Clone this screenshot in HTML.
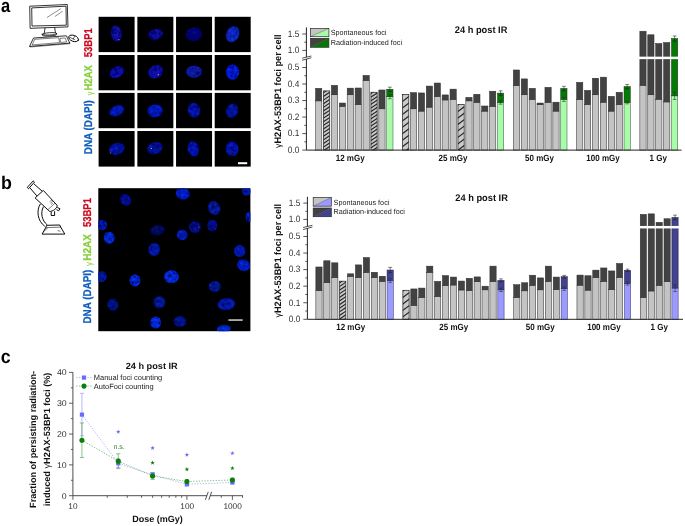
<!DOCTYPE html>
<html lang="en"><head><meta charset="utf-8"><title>Figure: persisting radiation-induced foci 24 h post IR</title>
<style>
html,body{margin:0;padding:0;background:#fff;}
body{width:685px;height:526px;overflow:hidden;}
svg{display:block;}
text{font-family:"Liberation Sans", Arial, sans-serif;fill:#1c1c1c;text-rendering:geometricPrecision;}
.tk{font-size:9.2px;fill:#303030;}
.yl{font-size:9.45px;font-weight:bold;fill:#111;}
.gm{font-weight:normal;font-size:9px;}
.tt2{font-size:9.6px;font-weight:bold;fill:#111;}
.tt{font-size:9px;font-weight:bold;fill:#111;}
.xl{font-size:9px;font-weight:bold;fill:#111;}
.lg{font-size:7.4px;fill:#222;}
.pl{font-size:19.5px;font-weight:bold;fill:#000;}
.vl{font-size:11.3px;font-weight:bold;stroke-width:0.25px;}
.vg{font-size:9.6px;}
.ctk{font-size:8.4px;fill:#303030;}
.clg{font-size:7.5px;fill:#222;}
.ns{font-size:7px;fill:#2e8b2e;}
</style></head><body>
<svg width="685" height="526" viewBox="0 0 685 526">
<defs>
<filter id="b1" x="-30%" y="-30%" width="160%" height="160%"><feGaussianBlur in="SourceGraphic" stdDeviation="0.55" result="b"/><feTurbulence type="fractalNoise" baseFrequency="0.32" numOctaves="2" seed="7" result="n"/><feColorMatrix in="n" type="matrix" values="0 0 0 0 0  0 0 0 0 0  0 0 0 0 0.05  1.9 0 0 0 -0.62" result="na"/><feComposite in="na" in2="b" operator="in" result="dk"/><feMerge><feMergeNode in="b"/><feMergeNode in="dk"/></feMerge></filter>
<filter id="b0" x="-80%" y="-80%" width="260%" height="260%"><feGaussianBlur stdDeviation="0.45"/></filter>
<clipPath id="clipb"><rect x="98.3" y="188.2" width="152.1" height="143"/></clipPath>
</defs>
<rect width="685" height="526" fill="#fff"/>
<text transform="translate(0.9 11.5) scale(0.87 1)" class="pl" style="font-size:19.0px">a</text>
<text transform="translate(0.9 188.5) scale(0.97 1)" class="pl" style="font-size:18.4px">b</text>
<text transform="translate(0.8 362.8) scale(0.93 1)" class="pl" style="font-size:19.0px">c</text>
<text transform="translate(92 154.2) rotate(-90) scale(0.873 1)" class="vl" style="fill:#0f5cbd;stroke:#0f5cbd">DNA (DAPI)</text>
<text transform="translate(92.6 95.6) rotate(-90) scale(0.84 1)" class="vg" style="fill:#86cf3a">γ</text>
<text transform="translate(92 90.5) rotate(-90) scale(0.84 1)" class="vl" style="fill:#86cf3a;stroke:#86cf3a">H2AX</text>
<text transform="translate(92 57.2) rotate(-90) scale(0.84 1)" class="vl" style="fill:#c8081c;stroke:#c8081c">53BP1</text>
<text transform="translate(91.1 323.5) rotate(-90) scale(0.873 1)" class="vl" style="fill:#0f5cbd;stroke:#0f5cbd">DNA (DAPI)</text>
<text transform="translate(91.7 265.9) rotate(-90) scale(0.84 1)" class="vg" style="fill:#86cf3a">γ</text>
<text transform="translate(91.1 260.8) rotate(-90) scale(0.89 1)" class="vl" style="fill:#86cf3a;stroke:#86cf3a">H2AX</text>
<text transform="translate(91.1 227.1) rotate(-90) scale(0.84 1)" class="vl" style="fill:#c8081c;stroke:#c8081c">53BP1</text>
<rect x="98.6" y="16.8" width="36" height="35.3" fill="#000"/>
<rect x="137.35" y="16.8" width="36" height="35.3" fill="#000"/>
<rect x="176.05" y="16.8" width="36" height="35.3" fill="#000"/>
<rect x="214.7" y="16.8" width="36" height="35.3" fill="#000"/>
<rect x="98.6" y="55" width="36" height="35.3" fill="#000"/>
<rect x="137.35" y="55" width="36" height="35.3" fill="#000"/>
<rect x="176.05" y="55" width="36" height="35.3" fill="#000"/>
<rect x="214.7" y="55" width="36" height="35.3" fill="#000"/>
<rect x="98.6" y="92.9" width="36" height="35.3" fill="#000"/>
<rect x="137.35" y="92.9" width="36" height="35.3" fill="#000"/>
<rect x="176.05" y="92.9" width="36" height="35.3" fill="#000"/>
<rect x="214.7" y="92.9" width="36" height="35.3" fill="#000"/>
<rect x="98.6" y="131" width="36" height="35.6" fill="#000"/>
<rect x="137.35" y="131" width="36" height="35.6" fill="#000"/>
<rect x="176.05" y="131" width="36" height="35.6" fill="#000"/>
<rect x="214.7" y="131" width="36" height="35.6" fill="#000"/>
<ellipse cx="116.3" cy="33.6" rx="5.4" ry="8" transform="rotate(-10 116.3 33.6)" fill="#1616a8" opacity="1.0" filter="url(#b1)"/>
<ellipse cx="155.5" cy="34.3" rx="7.4" ry="5.4" transform="rotate(-15 155.5 34.3)" fill="#1212a8" opacity="1.0" filter="url(#b1)"/>
<ellipse cx="194" cy="34.3" rx="8" ry="6.8" transform="rotate(-10 194 34.3)" fill="#0e0e88" opacity="1.0" filter="url(#b1)"/>
<ellipse cx="232.6" cy="34.3" rx="6.3" ry="8.2" transform="rotate(25 232.6 34.3)" fill="#1530e0" opacity="1.0" filter="url(#b1)"/>
<ellipse cx="116.8" cy="72.1" rx="7.6" ry="5.3" transform="rotate(-30 116.8 72.1)" fill="#1216c0" opacity="1.0" filter="url(#b1)"/>
<ellipse cx="155.5" cy="71.7" rx="7.8" ry="6.3" transform="rotate(-30 155.5 71.7)" fill="#1216b8" opacity="1.0" filter="url(#b1)"/>
<ellipse cx="194" cy="71.7" rx="8" ry="6.2" transform="rotate(0 194 71.7)" fill="#1324b0" opacity="1.0" filter="url(#b1)"/>
<ellipse cx="232.6" cy="72.1" rx="6.6" ry="7.6" transform="rotate(0 232.6 72.1)" fill="#0e24ea" opacity="1.0" filter="url(#b1)"/>
<ellipse cx="116.8" cy="110.8" rx="7.6" ry="5" transform="rotate(-25 116.8 110.8)" fill="#0e20d0" opacity="1.0" filter="url(#b1)"/>
<ellipse cx="155" cy="110.8" rx="7.6" ry="6.4" transform="rotate(-5 155 110.8)" fill="#0e20d8" opacity="1.0" filter="url(#b1)"/>
<ellipse cx="194" cy="110.3" rx="6" ry="7.2" transform="rotate(-10 194 110.3)" fill="#0e1cc0" opacity="1.0" filter="url(#b1)"/>
<ellipse cx="232.1" cy="110.8" rx="5.8" ry="7.2" transform="rotate(25 232.1 110.8)" fill="#0e1cb0" opacity="1.0" filter="url(#b1)"/>
<ellipse cx="116.8" cy="148.8" rx="8" ry="5.8" transform="rotate(-20 116.8 148.8)" fill="#0e1cb8" opacity="1.0" filter="url(#b1)"/>
<ellipse cx="154.8" cy="148.1" rx="8" ry="5.8" transform="rotate(-20 154.8 148.1)" fill="#0e1cb0" opacity="1.0" filter="url(#b1)"/>
<ellipse cx="193.3" cy="148.8" rx="5.4" ry="7.6" transform="rotate(-15 193.3 148.8)" fill="#0e1cc8" opacity="1.0" filter="url(#b1)"/>
<ellipse cx="232.1" cy="148.8" rx="6.4" ry="7.2" transform="rotate(-10 232.1 148.8)" fill="#0e1cc0" opacity="1.0" filter="url(#b1)"/>
<circle cx="118.8" cy="39.6" r="0.65" fill="#d870a8" filter="url(#b0)"/>
<circle cx="158.3" cy="74.7" r="0.65" fill="#e8a070" filter="url(#b0)"/>
<circle cx="110.3" cy="153" r="0.6" fill="#e86828" filter="url(#b0)"/>
<circle cx="151.4" cy="148.4" r="0.65" fill="#f09030" filter="url(#b0)"/>
<circle cx="230.5" cy="153.4" r="0.5" fill="#c82040" filter="url(#b0)"/>
<rect x="238" y="162.2" width="9.2" height="2" fill="#fff"/>
<rect x="98.3" y="188.2" width="152.1" height="143" fill="#000"/>
<g clip-path="url(#clipb)">
<ellipse cx="125.6" cy="199.8" rx="5" ry="6.2" transform="rotate(-35 125.6 199.8)" fill="#0e18a0" opacity="1.0" filter="url(#b1)"/>
<ellipse cx="182.8" cy="193.7" rx="7" ry="5.8" transform="rotate(10 182.8 193.7)" fill="#1028e0" opacity="1.0" filter="url(#b1)"/>
<ellipse cx="246.5" cy="191.4" rx="4.6" ry="4" transform="rotate(0 246.5 191.4)" fill="#1020c0" opacity="1.0" filter="url(#b1)"/>
<ellipse cx="214.1" cy="208" rx="5.8" ry="7" transform="rotate(-25 214.1 208)" fill="#1020a8" opacity="1.0" filter="url(#b1)"/>
<ellipse cx="102" cy="225" rx="5" ry="5.2" transform="rotate(0 102 225)" fill="#1020c0" opacity="1.0" filter="url(#b1)"/>
<ellipse cx="109.2" cy="237.8" rx="5.4" ry="6" transform="rotate(0 109.2 237.8)" fill="#1030e8" opacity="1.0" filter="url(#b1)"/>
<ellipse cx="157.5" cy="230.2" rx="7.2" ry="5" transform="rotate(-10 157.5 230.2)" fill="#0a1268" opacity="1.0" filter="url(#b1)"/>
<ellipse cx="182.2" cy="234.8" rx="5.4" ry="5.4" transform="rotate(0 182.2 234.8)" fill="#1020c0" opacity="1.0" filter="url(#b1)"/>
<ellipse cx="195" cy="227.1" rx="6" ry="5.8" transform="rotate(0 195 227.1)" fill="#0e1890" opacity="1.0" filter="url(#b1)"/>
<ellipse cx="212.3" cy="225.6" rx="5" ry="6" transform="rotate(0 212.3 225.6)" fill="#0e1890" opacity="1.0" filter="url(#b1)"/>
<ellipse cx="249" cy="217.1" rx="3.4" ry="5" transform="rotate(0 249 217.1)" fill="#1020c0" opacity="1.0" filter="url(#b1)"/>
<ellipse cx="154.2" cy="249.4" rx="5.8" ry="6.4" transform="rotate(10 154.2 249.4)" fill="#1020b8" opacity="1.0" filter="url(#b1)"/>
<ellipse cx="239.7" cy="250.9" rx="5.8" ry="6" transform="rotate(0 239.7 250.9)" fill="#1020c8" opacity="1.0" filter="url(#b1)"/>
<ellipse cx="243.6" cy="265.2" rx="6.6" ry="5.8" transform="rotate(15 243.6 265.2)" fill="#1028e0" opacity="1.0" filter="url(#b1)"/>
<ellipse cx="101.6" cy="276.7" rx="5" ry="5.5" transform="rotate(0 101.6 276.7)" fill="#1020b0" opacity="1.0" filter="url(#b1)"/>
<ellipse cx="135" cy="280.4" rx="5.4" ry="6" transform="rotate(0 135 280.4)" fill="#1030f0" opacity="1.0" filter="url(#b1)"/>
<ellipse cx="171.5" cy="276.7" rx="7.4" ry="6.4" transform="rotate(0 171.5 276.7)" fill="#1030f0" opacity="1.0" filter="url(#b1)"/>
<ellipse cx="214.7" cy="286.5" rx="6" ry="5.4" transform="rotate(0 214.7 286.5)" fill="#1020a0" opacity="1.0" filter="url(#b1)"/>
<ellipse cx="112.8" cy="304.7" rx="5.4" ry="6" transform="rotate(-15 112.8 304.7)" fill="#0e1c90" opacity="1.0" filter="url(#b1)"/>
<ellipse cx="159.4" cy="302.3" rx="5.8" ry="6" transform="rotate(-15 159.4 302.3)" fill="#1020a8" opacity="1.0" filter="url(#b1)"/>
<ellipse cx="226.3" cy="304.1" rx="8.8" ry="5.8" transform="rotate(-5 226.3 304.1)" fill="#1024c0" opacity="1.0" filter="url(#b1)"/>
<ellipse cx="155.7" cy="322.4" rx="5.4" ry="6" transform="rotate(0 155.7 322.4)" fill="#1030f0" opacity="1.0" filter="url(#b1)"/>
<ellipse cx="180" cy="321.4" rx="6.4" ry="5.4" transform="rotate(0 180 321.4)" fill="#0e1c98" opacity="1.0" filter="url(#b1)"/>
<ellipse cx="223.8" cy="329" rx="7" ry="3.8" transform="rotate(-5 223.8 329)" fill="#1030e8" opacity="1.0" filter="url(#b1)"/>
<circle cx="198.9" cy="227.1" r="0.6" fill="#f04020" filter="url(#b0)"/>
</g>
<rect x="228.4" y="319.4" width="14.3" height="1.3" fill="#f4f4f4"/>
<g fill="none" stroke="#000" stroke-width="0.8" stroke-linejoin="round" stroke-linecap="round">
<path d="M30.1 6.2L67.3 4.5L68 26.9L30.5 28.3Z"/>
<path d="M32.1 7.9L66 6.2L66.3 25.2L32.4 26Z" stroke-width="0.8"/>
<path d="M47.3 17.3L60.6 8.8M55.2 16.3L62.4 11.3" stroke-width="0.45"/>
<path d="M45 28.2L44.3 33.1M54.7 27.7L55.4 32.6"/>
<path d="M42.3 34.2C42.5 32.6 56 32 56.6 33.4C57 35 42.6 36 42.3 34.2Z"/>
<path d="M42.4 34.6L42.5 35.4C44 36.6 55.8 36 56.6 34.6L56.6 33.6"/>
<path d="M33.9 38L66.4 35.8L69.8 43.1L29.9 46.4Z"/>
<path d="M35 39.3L58.6 37.7L59.6 42.6L32.6 44.9Z" stroke-width="0.5"/>
<path d="M60.3 38.3L65.2 38L66.6 41.9L61 42.4Z" stroke-width="0.5"/>
<path d="M29.9 46.4L30.2 47L70 43.7L69.8 43.1" stroke-width="0.45"/>
<ellipse cx="73.6" cy="38.4" rx="5.1" ry="3" transform="rotate(20 73.6 38.4)" stroke-width="0.9"/>
<path d="M69.6 37.2L74.6 39.6M74.6 36.2L73.3 39" stroke-width="0.6"/>
</g>
<g fill="none" stroke="#000" stroke-width="0.95" stroke-linejoin="round" stroke-linecap="round">
<path d="M27.5 187.2L33.2 180.9L34.5 182.1L28.8 188.4Z"/>
<path d="M30.4 188.4L36.6 195.6M34.3 184.2L41.8 190.9"/>
<path d="M35.4 197.7L43.3 190.4L57 205.2C58 207.6 52.6 212 49.9 211.4Z"/>
<path d="M48.2 209.4L54.8 203.4M50 201.4l1.6 -1.2M50.8 202.8l1.6 -1.2M51.4 204.2l1.2 -1" stroke-width="0.5"/>
<path d="M57.6 207.6L60 208.8L58.6 210.8L56.8 209.8"/>
<path d="M51.2 212.2L51.2 215.5L54.6 215.5L54.6 211.6"/>
<path d="M40.2 204.2C36.2 210 37.4 221 44.4 226M43.3 207C40.2 212.6 41.8 220.6 46.9 224.6"/>
<path d="M46.9 225.3L59.7 225L60.7 227.1L64.8 234.1L42.1 234.1L45.7 227.7Z"/>
<path d="M45.7 227.7L60.7 227.1M43.6 231.6L47.4 228.2M58 230.6l2 0.6" stroke-width="0.55"/>
</g>
<rect x="315.55" y="100.87" width="6.25" height="49.23" fill="#c4c4c4" stroke="#262626" stroke-width="0.5"/>
<rect x="315.55" y="88.32" width="6.25" height="12.56" fill="#424242" stroke="#2c2c2c" stroke-width="0.5"/>
<rect x="323.46" y="90.88" width="6.25" height="59.22" fill="#cacaca"/>
<svg x="323.46" y="90.88" width="6.25" height="59.22" viewBox="0 0 6.25 59.22">
<path d="M-1 -4.67L7.25 -10.2M-1 -1.05L7.25 -6.58M-1 2.57L7.25 -2.96M-1 6.19L7.25 0.66M-1 9.81L7.25 4.28M-1 13.43L7.25 7.9M-1 17.05L7.25 11.52M-1 20.67L7.25 15.14M-1 24.29L7.25 18.76M-1 27.91L7.25 22.38M-1 31.53L7.25 26M-1 35.15L7.25 29.62M-1 38.77L7.25 33.24M-1 42.39L7.25 36.86M-1 46.01L7.25 40.48M-1 49.63L7.25 44.1M-1 53.25L7.25 47.72M-1 56.87L7.25 51.34M-1 60.49L7.25 54.96M-1 64.11L7.25 58.58M-1 67.73L7.25 62.2" stroke="#262626" stroke-width="1.15" fill="none"/>
</svg>
<rect x="323.46" y="90.88" width="6.25" height="59.22" fill="none" stroke="#2a2a2a" stroke-width="0.75"/>
<rect x="331.37" y="94.76" width="6.25" height="55.34" fill="#c4c4c4" stroke="#262626" stroke-width="0.5"/>
<rect x="331.37" y="85.34" width="6.25" height="9.42" fill="#424242" stroke="#2c2c2c" stroke-width="0.5"/>
<rect x="339.28" y="106.32" width="6.25" height="43.78" fill="#c4c4c4" stroke="#262626" stroke-width="0.5"/>
<rect x="339.28" y="103.02" width="6.25" height="3.3" fill="#424242" stroke="#2c2c2c" stroke-width="0.5"/>
<rect x="347.19" y="94.76" width="6.25" height="55.34" fill="#c4c4c4" stroke="#262626" stroke-width="0.5"/>
<rect x="347.19" y="88.15" width="6.25" height="6.61" fill="#424242" stroke="#2c2c2c" stroke-width="0.5"/>
<rect x="355.1" y="104.67" width="6.25" height="45.43" fill="#c4c4c4" stroke="#262626" stroke-width="0.5"/>
<rect x="355.1" y="87.98" width="6.25" height="16.69" fill="#424242" stroke="#2c2c2c" stroke-width="0.5"/>
<rect x="363.01" y="80.55" width="6.25" height="69.55" fill="#c4c4c4" stroke="#262626" stroke-width="0.5"/>
<rect x="363.01" y="75.43" width="6.25" height="5.12" fill="#424242" stroke="#2c2c2c" stroke-width="0.5"/>
<rect x="370.92" y="92.28" width="6.25" height="57.82" fill="#cacaca"/>
<svg x="370.92" y="92.28" width="6.25" height="57.82" viewBox="0 0 6.25 57.82">
<path d="M-1 -5.3L7.25 -10.82M-1 -1.68L7.25 -7.2M-1 1.94L7.25 -3.58M-1 5.56L7.25 0.04M-1 9.18L7.25 3.66M-1 12.8L7.25 7.28M-1 16.42L7.25 10.9M-1 20.04L7.25 14.52M-1 23.66L7.25 18.14M-1 27.28L7.25 21.76M-1 30.9L7.25 25.38M-1 34.52L7.25 29M-1 38.14L7.25 32.62M-1 41.76L7.25 36.24M-1 45.38L7.25 39.86M-1 49L7.25 43.48M-1 52.62L7.25 47.1M-1 56.24L7.25 50.72M-1 59.86L7.25 54.34M-1 63.48L7.25 57.96M-1 67.1L7.25 61.58" stroke="#262626" stroke-width="1.15" fill="none"/>
</svg>
<rect x="370.92" y="92.28" width="6.25" height="57.82" fill="none" stroke="#2a2a2a" stroke-width="0.75"/>
<rect x="378.83" y="108.8" width="6.25" height="41.3" fill="#c4c4c4" stroke="#262626" stroke-width="0.5"/>
<rect x="378.83" y="89.97" width="6.25" height="18.83" fill="#424242" stroke="#2c2c2c" stroke-width="0.5"/>
<rect x="386.74" y="96.74" width="6.25" height="53.36" fill="#a8fba8" stroke="#33503a" stroke-width="0.5"/>
<rect x="386.74" y="89.31" width="6.25" height="7.43" fill="#047a04" stroke="#143014" stroke-width="0.5"/>
<path d="M389.87 87.16V91.45M387.97 87.16H391.76M387.97 91.45H391.76" stroke="#1a1a1a" stroke-width="0.55" fill="none"/>
<path d="M389.87 94.76V98.72M387.97 94.76H391.76M387.97 98.72H391.76" stroke="#2a2a2a" stroke-width="0.55" fill="none"/>
<rect x="402.56" y="94.43" width="6.25" height="55.67" fill="#cacaca"/>
<svg x="402.56" y="94.43" width="6.25" height="55.67" viewBox="0 0 6.25 55.67">
<path d="M-1 -11.71L7.25 -17.9M-1 -5.25L7.25 -11.44M-1 1.21L7.25 -4.98M-1 7.67L7.25 1.48M-1 14.13L7.25 7.94M-1 20.59L7.25 14.4M-1 27.05L7.25 20.86M-1 33.51L7.25 27.32M-1 39.97L7.25 33.78M-1 46.43L7.25 40.24M-1 52.89L7.25 46.7M-1 59.35L7.25 53.16M-1 65.81L7.25 59.62M-1 72.27L7.25 66.08" stroke="#262626" stroke-width="1.2" fill="none"/>
</svg>
<rect x="402.56" y="94.43" width="6.25" height="55.67" fill="none" stroke="#2a2a2a" stroke-width="0.75"/>
<rect x="410.47" y="108.8" width="6.25" height="41.3" fill="#c4c4c4" stroke="#262626" stroke-width="0.5"/>
<rect x="410.47" y="92.61" width="6.25" height="16.19" fill="#424242" stroke="#2c2c2c" stroke-width="0.5"/>
<rect x="418.38" y="111.11" width="6.25" height="38.99" fill="#c4c4c4" stroke="#262626" stroke-width="0.5"/>
<rect x="418.38" y="92.94" width="6.25" height="18.17" fill="#424242" stroke="#2c2c2c" stroke-width="0.5"/>
<rect x="426.29" y="107.15" width="6.25" height="42.95" fill="#c4c4c4" stroke="#262626" stroke-width="0.5"/>
<rect x="426.29" y="86.08" width="6.25" height="21.06" fill="#424242" stroke="#2c2c2c" stroke-width="0.5"/>
<rect x="434.2" y="96.58" width="6.25" height="53.52" fill="#c4c4c4" stroke="#262626" stroke-width="0.5"/>
<rect x="434.2" y="83.03" width="6.25" height="13.55" fill="#424242" stroke="#2c2c2c" stroke-width="0.5"/>
<rect x="442.11" y="99.96" width="6.25" height="50.14" fill="#c4c4c4" stroke="#262626" stroke-width="0.5"/>
<rect x="442.11" y="94.92" width="6.25" height="5.04" fill="#424242" stroke="#2c2c2c" stroke-width="0.5"/>
<rect x="450.02" y="99.6" width="6.25" height="50.5" fill="#c4c4c4" stroke="#262626" stroke-width="0.5"/>
<rect x="450.02" y="89.14" width="6.25" height="10.46" fill="#424242" stroke="#2c2c2c" stroke-width="0.5"/>
<rect x="457.93" y="104.39" width="6.25" height="45.71" fill="#cacaca"/>
<svg x="457.93" y="104.39" width="6.25" height="45.71" viewBox="0 0 6.25 45.71">
<path d="M-1 -11.52L7.25 -17.7M-1 -5.06L7.25 -11.24M-1 1.4L7.25 -4.78M-1 7.86L7.25 1.68M-1 14.32L7.25 8.14M-1 20.78L7.25 14.6M-1 27.24L7.25 21.06M-1 33.7L7.25 27.52M-1 40.16L7.25 33.98M-1 46.62L7.25 40.44M-1 53.08L7.25 46.9M-1 59.54L7.25 53.36" stroke="#262626" stroke-width="1.2" fill="none"/>
</svg>
<rect x="457.93" y="104.39" width="6.25" height="45.71" fill="none" stroke="#2a2a2a" stroke-width="0.75"/>
<rect x="465.84" y="100.87" width="6.25" height="49.23" fill="#c4c4c4" stroke="#262626" stroke-width="0.5"/>
<rect x="465.84" y="97.4" width="6.25" height="3.47" fill="#424242" stroke="#2c2c2c" stroke-width="0.5"/>
<rect x="473.75" y="102.36" width="6.25" height="47.74" fill="#c4c4c4" stroke="#262626" stroke-width="0.5"/>
<rect x="473.75" y="94.26" width="6.25" height="8.09" fill="#424242" stroke="#2c2c2c" stroke-width="0.5"/>
<rect x="481.66" y="111.11" width="6.25" height="38.99" fill="#c4c4c4" stroke="#262626" stroke-width="0.5"/>
<rect x="481.66" y="105.99" width="6.25" height="5.12" fill="#424242" stroke="#2c2c2c" stroke-width="0.5"/>
<rect x="489.57" y="106.32" width="6.25" height="43.78" fill="#c4c4c4" stroke="#262626" stroke-width="0.5"/>
<rect x="489.57" y="91.21" width="6.25" height="15.12" fill="#424242" stroke="#2c2c2c" stroke-width="0.5"/>
<rect x="497.48" y="102.52" width="6.25" height="47.58" fill="#a8fba8" stroke="#33503a" stroke-width="0.5"/>
<rect x="497.48" y="93.11" width="6.25" height="9.42" fill="#047a04" stroke="#143014" stroke-width="0.5"/>
<path d="M500.61 90.79V95.42M498.71 90.79H502.5M498.71 95.42H502.5" stroke="#1a1a1a" stroke-width="0.55" fill="none"/>
<path d="M500.61 100.87V104.17M498.71 100.87H502.5M498.71 104.17H502.5" stroke="#2a2a2a" stroke-width="0.55" fill="none"/>
<rect x="513.3" y="85.67" width="6.25" height="64.43" fill="#c4c4c4" stroke="#262626" stroke-width="0.5"/>
<rect x="513.3" y="69.98" width="6.25" height="15.69" fill="#424242" stroke="#2c2c2c" stroke-width="0.5"/>
<rect x="521.21" y="94.76" width="6.25" height="55.34" fill="#c4c4c4" stroke="#262626" stroke-width="0.5"/>
<rect x="521.21" y="78.9" width="6.25" height="15.86" fill="#424242" stroke="#2c2c2c" stroke-width="0.5"/>
<rect x="529.12" y="99.55" width="6.25" height="50.55" fill="#c4c4c4" stroke="#262626" stroke-width="0.5"/>
<rect x="529.12" y="88.32" width="6.25" height="11.23" fill="#424242" stroke="#2c2c2c" stroke-width="0.5"/>
<rect x="537.03" y="104.74" width="6.25" height="45.36" fill="#c4c4c4" stroke="#262626" stroke-width="0.5"/>
<rect x="537.03" y="103.02" width="6.25" height="1.72" fill="#424242" stroke="#2c2c2c" stroke-width="0.5"/>
<rect x="544.94" y="102.36" width="6.25" height="47.74" fill="#c4c4c4" stroke="#262626" stroke-width="0.5"/>
<rect x="544.94" y="87.32" width="6.25" height="15.03" fill="#424242" stroke="#2c2c2c" stroke-width="0.5"/>
<rect x="552.85" y="111.11" width="6.25" height="38.99" fill="#c4c4c4" stroke="#262626" stroke-width="0.5"/>
<rect x="552.85" y="102.19" width="6.25" height="8.92" fill="#424242" stroke="#2c2c2c" stroke-width="0.5"/>
<rect x="560.76" y="99.43" width="6.25" height="50.67" fill="#a8fba8" stroke="#33503a" stroke-width="0.5"/>
<rect x="560.76" y="88.48" width="6.25" height="10.95" fill="#047a04" stroke="#143014" stroke-width="0.5"/>
<path d="M563.88 86.33V90.63M561.99 86.33H565.78M561.99 90.63H565.78" stroke="#1a1a1a" stroke-width="0.55" fill="none"/>
<path d="M563.88 97.45V101.42M561.99 97.45H565.78M561.99 101.42H565.78" stroke="#2a2a2a" stroke-width="0.55" fill="none"/>
<rect x="576.58" y="99.55" width="6.25" height="50.55" fill="#c4c4c4" stroke="#262626" stroke-width="0.5"/>
<rect x="576.58" y="82.37" width="6.25" height="17.18" fill="#424242" stroke="#2c2c2c" stroke-width="0.5"/>
<rect x="584.49" y="104.57" width="6.25" height="45.53" fill="#c4c4c4" stroke="#262626" stroke-width="0.5"/>
<rect x="584.49" y="90.35" width="6.25" height="14.22" fill="#424242" stroke="#2c2c2c" stroke-width="0.5"/>
<rect x="592.4" y="94.76" width="6.25" height="55.34" fill="#c4c4c4" stroke="#262626" stroke-width="0.5"/>
<rect x="592.4" y="78.24" width="6.25" height="16.52" fill="#424242" stroke="#2c2c2c" stroke-width="0.5"/>
<rect x="600.31" y="102.19" width="6.25" height="47.91" fill="#c4c4c4" stroke="#262626" stroke-width="0.5"/>
<rect x="600.31" y="77.16" width="6.25" height="25.03" fill="#424242" stroke="#2c2c2c" stroke-width="0.5"/>
<rect x="608.22" y="111.11" width="6.25" height="38.99" fill="#c4c4c4" stroke="#262626" stroke-width="0.5"/>
<rect x="608.22" y="96.34" width="6.25" height="14.77" fill="#424242" stroke="#2c2c2c" stroke-width="0.5"/>
<rect x="616.13" y="104.57" width="6.25" height="45.53" fill="#c4c4c4" stroke="#262626" stroke-width="0.5"/>
<rect x="616.13" y="92.28" width="6.25" height="12.29" fill="#424242" stroke="#2c2c2c" stroke-width="0.5"/>
<rect x="624.04" y="102.52" width="6.25" height="47.58" fill="#a8fba8" stroke="#33503a" stroke-width="0.5"/>
<rect x="624.04" y="86.58" width="6.25" height="15.94" fill="#047a04" stroke="#143014" stroke-width="0.5"/>
<path d="M627.16 84.43V88.73M625.26 84.43H629.06M625.26 88.73H629.06" stroke="#1a1a1a" stroke-width="0.55" fill="none"/>
<path d="M627.16 101.2V103.84M625.26 101.2H629.06M625.26 103.84H629.06" stroke="#2a2a2a" stroke-width="0.55" fill="none"/>
<rect x="639.86" y="85.42" width="6.25" height="64.68" fill="#c4c4c4" stroke="#262626" stroke-width="0.5"/>
<rect x="639.86" y="31.21" width="6.25" height="54.21" fill="#424242" stroke="#2c2c2c" stroke-width="0.5"/>
<rect x="647.77" y="94.76" width="6.25" height="55.34" fill="#c4c4c4" stroke="#262626" stroke-width="0.5"/>
<rect x="647.77" y="34.79" width="6.25" height="59.97" fill="#424242" stroke="#2c2c2c" stroke-width="0.5"/>
<rect x="655.68" y="99.22" width="6.25" height="50.88" fill="#c4c4c4" stroke="#262626" stroke-width="0.5"/>
<rect x="655.68" y="43.51" width="6.25" height="55.71" fill="#424242" stroke="#2c2c2c" stroke-width="0.5"/>
<rect x="663.59" y="101.94" width="6.25" height="48.16" fill="#c4c4c4" stroke="#262626" stroke-width="0.5"/>
<rect x="663.59" y="42.53" width="6.25" height="59.42" fill="#424242" stroke="#2c2c2c" stroke-width="0.5"/>
<rect x="671.5" y="95.83" width="6.25" height="54.27" fill="#a8fba8" stroke="#33503a" stroke-width="0.5"/>
<rect x="671.5" y="38.59" width="6.25" height="57.24" fill="#047a04" stroke="#143014" stroke-width="0.5"/>
<path d="M674.62 35.97V41.22M672.73 35.97H676.52M672.73 41.22H676.52" stroke="#1a1a1a" stroke-width="0.55" fill="none"/>
<path d="M674.62 92.2V99.47M672.73 92.2H676.52M672.73 99.47H676.52" stroke="#2a2a2a" stroke-width="0.55" fill="none"/>
<rect x="307.4" y="56.65" width="375.1" height="2.5" fill="#fff"/>
<path d="M306.4 27.4V150.1H681.5" stroke="#242424" stroke-width="1" fill="none"/>
<rect x="304.9" y="57" width="3" height="2.0" fill="#fff"/>
<path d="M302.1 58.2L311.4 56M302.1 60.3L311.4 57.7" stroke="#1a1a1a" stroke-width="0.75" fill="none"/>
<path d="M302.3 150.1H306.4M304.3 141.84H306.4M302.3 133.58H306.4M304.3 125.32H306.4M302.3 117.06H306.4M304.3 108.8H306.4M302.3 100.54H306.4M304.3 92.28H306.4M302.3 84.02H306.4M304.3 75.76H306.4M302.3 67.5H306.4M302.3 50.4H306.4M302.3 34H306.4M304.3 42.2H306.4" stroke="#2b2b2b" stroke-width="0.8" fill="none"/>
<text transform="translate(299.4 152.9) scale(0.905 1)" text-anchor="end" class="tk">0.0</text>
<text transform="translate(299.4 136.38) scale(0.905 1)" text-anchor="end" class="tk">0.1</text>
<text transform="translate(299.4 119.86) scale(0.905 1)" text-anchor="end" class="tk">0.2</text>
<text transform="translate(299.4 103.34) scale(0.905 1)" text-anchor="end" class="tk">0.3</text>
<text transform="translate(299.4 86.82) scale(0.905 1)" text-anchor="end" class="tk">0.4</text>
<text transform="translate(299.4 70.3) scale(0.905 1)" text-anchor="end" class="tk">0.5</text>
<text transform="translate(299.4 53.2) scale(0.905 1)" text-anchor="end" class="tk">1.0</text>
<text transform="translate(299.4 36.8) scale(0.905 1)" text-anchor="end" class="tk">1.5</text>
<text transform="translate(280.5 147.9) rotate(-90) scale(0.972 1)" class="yl"><tspan class="gm">γ</tspan>H2AX-53BP1 foci per cell</text>
<text transform="translate(481.1 32.5) scale(0.967 1)" text-anchor="middle" class="tt2">24 h post IR</text>
<text transform="translate(350.2 160.7) scale(0.89 1)" text-anchor="middle" class="xl">12 mGy</text>
<text transform="translate(453 160.7) scale(0.89 1)" text-anchor="middle" class="xl">25 mGy</text>
<text transform="translate(539.5 160.7) scale(0.89 1)" text-anchor="middle" class="xl">50 mGy</text>
<text transform="translate(603 160.7) scale(0.89 1)" text-anchor="middle" class="xl">100 mGy</text>
<text transform="translate(658.2 160.7) scale(0.89 1)" text-anchor="middle" class="xl">1 Gy</text>
<path d="M310.5 28.4H328.9L310.5 36.7Z" fill="#c4c4c4"/>
<path d="M328.9 28.4V36.7H310.5Z" fill="#a8fba8"/>
<path d="M328.9 28.4L310.5 36.7" stroke="#222" stroke-width="0.35" fill="none"/>
<rect x="310.5" y="28.4" width="18.4" height="8.3" fill="none" stroke="#2a2a2a" stroke-width="0.7"/>
<text transform="translate(330.7 35.4) scale(0.976 1)" class="lg">Spontaneous foci</text>
<path d="M310.5 38.3H328.9L310.5 47.3Z" fill="#424242"/>
<path d="M328.9 38.3V47.3H310.5Z" fill="#047a04"/>
<path d="M328.9 38.3L310.5 47.3" stroke="#222" stroke-width="0.35" fill="none"/>
<rect x="310.5" y="38.3" width="18.4" height="9" fill="none" stroke="#2a2a2a" stroke-width="0.7"/>
<text transform="translate(330.7 45.45) scale(0.976 1)" class="lg">Radiation-induced foci</text>
<rect x="315.85" y="290.65" width="6.25" height="28.65" fill="#c4c4c4" stroke="#262626" stroke-width="0.5"/>
<rect x="315.85" y="266.97" width="6.25" height="23.68" fill="#424242" stroke="#2c2c2c" stroke-width="0.5"/>
<rect x="323.76" y="282.75" width="6.25" height="36.55" fill="#c4c4c4" stroke="#262626" stroke-width="0.5"/>
<rect x="323.76" y="260.78" width="6.25" height="21.98" fill="#424242" stroke="#2c2c2c" stroke-width="0.5"/>
<rect x="331.67" y="277.6" width="6.25" height="41.7" fill="#c4c4c4" stroke="#262626" stroke-width="0.5"/>
<rect x="331.67" y="262.83" width="6.25" height="14.77" fill="#424242" stroke="#2c2c2c" stroke-width="0.5"/>
<rect x="339.59" y="281.21" width="6.25" height="38.09" fill="#cacaca"/>
<svg x="339.59" y="281.21" width="6.25" height="38.09" viewBox="0 0 6.25 38.09">
<path d="M-1 -4.96L7.25 -10.49M-1 -1.34L7.25 -6.87M-1 2.28L7.25 -3.25M-1 5.9L7.25 0.37M-1 9.52L7.25 3.99M-1 13.14L7.25 7.61M-1 16.76L7.25 11.23M-1 20.38L7.25 14.85M-1 24L7.25 18.47M-1 27.62L7.25 22.09M-1 31.24L7.25 25.71M-1 34.86L7.25 29.33M-1 38.48L7.25 32.95M-1 42.1L7.25 36.57M-1 45.72L7.25 40.19M-1 49.34L7.25 43.81" stroke="#262626" stroke-width="1.15" fill="none"/>
</svg>
<rect x="339.59" y="281.21" width="6.25" height="38.09" fill="none" stroke="#2a2a2a" stroke-width="0.75"/>
<rect x="347.5" y="276.24" width="6.25" height="43.06" fill="#c4c4c4" stroke="#262626" stroke-width="0.5"/>
<rect x="347.5" y="273.83" width="6.25" height="2.42" fill="#424242" stroke="#2c2c2c" stroke-width="0.5"/>
<rect x="355.41" y="277.6" width="6.25" height="41.7" fill="#c4c4c4" stroke="#262626" stroke-width="0.5"/>
<rect x="355.41" y="264.9" width="6.25" height="12.7" fill="#424242" stroke="#2c2c2c" stroke-width="0.5"/>
<rect x="363.32" y="272.44" width="6.25" height="46.86" fill="#c4c4c4" stroke="#262626" stroke-width="0.5"/>
<rect x="363.32" y="257.53" width="6.25" height="14.9" fill="#424242" stroke="#2c2c2c" stroke-width="0.5"/>
<rect x="371.23" y="277.6" width="6.25" height="41.7" fill="#c4c4c4" stroke="#262626" stroke-width="0.5"/>
<rect x="371.23" y="272.27" width="6.25" height="5.33" fill="#424242" stroke="#2c2c2c" stroke-width="0.5"/>
<rect x="379.15" y="281.38" width="6.25" height="37.92" fill="#c4c4c4" stroke="#262626" stroke-width="0.5"/>
<rect x="379.15" y="276.24" width="6.25" height="5.13" fill="#424242" stroke="#2c2c2c" stroke-width="0.5"/>
<rect x="387.06" y="280.55" width="6.25" height="38.75" fill="#9a9aff" stroke="#30305c" stroke-width="0.5"/>
<rect x="387.06" y="270.03" width="6.25" height="10.52" fill="#42428e" stroke="#1c1c40" stroke-width="0.5"/>
<path d="M390.18 267.38V272.68M388.28 267.38H392.08M388.28 272.68H392.08" stroke="#1a1a1a" stroke-width="0.55" fill="none"/>
<path d="M390.18 278.73V282.37M388.28 278.73H392.08M388.28 282.37H392.08" stroke="#2a2a2a" stroke-width="0.55" fill="none"/>
<rect x="402.88" y="290.32" width="6.25" height="28.98" fill="#cacaca"/>
<svg x="402.88" y="290.32" width="6.25" height="28.98" viewBox="0 0 6.25 28.98">
<path d="M-1 -11.49L7.25 -17.68M-1 -5.03L7.25 -11.22M-1 1.43L7.25 -4.76M-1 7.89L7.25 1.7M-1 14.35L7.25 8.16M-1 20.81L7.25 14.62M-1 27.27L7.25 21.08M-1 33.73L7.25 27.54M-1 40.19L7.25 34M-1 46.65L7.25 40.46" stroke="#262626" stroke-width="1.2" fill="none"/>
</svg>
<rect x="402.88" y="290.32" width="6.25" height="28.98" fill="none" stroke="#2a2a2a" stroke-width="0.75"/>
<rect x="410.79" y="305.39" width="6.25" height="13.91" fill="#c4c4c4" stroke="#262626" stroke-width="0.5"/>
<rect x="410.79" y="288.93" width="6.25" height="16.46" fill="#424242" stroke="#2c2c2c" stroke-width="0.5"/>
<rect x="418.71" y="297.51" width="6.25" height="21.79" fill="#c4c4c4" stroke="#262626" stroke-width="0.5"/>
<rect x="418.71" y="288.07" width="6.25" height="9.44" fill="#424242" stroke="#2c2c2c" stroke-width="0.5"/>
<rect x="426.62" y="272.44" width="6.25" height="46.86" fill="#c4c4c4" stroke="#262626" stroke-width="0.5"/>
<rect x="426.62" y="266.14" width="6.25" height="6.29" fill="#424242" stroke="#2c2c2c" stroke-width="0.5"/>
<rect x="434.53" y="296.45" width="6.25" height="22.85" fill="#c4c4c4" stroke="#262626" stroke-width="0.5"/>
<rect x="434.53" y="281.38" width="6.25" height="15.07" fill="#424242" stroke="#2c2c2c" stroke-width="0.5"/>
<rect x="442.44" y="285.52" width="6.25" height="33.78" fill="#c4c4c4" stroke="#262626" stroke-width="0.5"/>
<rect x="442.44" y="275.58" width="6.25" height="9.94" fill="#424242" stroke="#2c2c2c" stroke-width="0.5"/>
<rect x="450.35" y="285.02" width="6.25" height="34.28" fill="#c4c4c4" stroke="#262626" stroke-width="0.5"/>
<rect x="450.35" y="277.07" width="6.25" height="7.95" fill="#424242" stroke="#2c2c2c" stroke-width="0.5"/>
<rect x="458.27" y="289.99" width="6.25" height="29.31" fill="#c4c4c4" stroke="#262626" stroke-width="0.5"/>
<rect x="458.27" y="281.05" width="6.25" height="8.94" fill="#424242" stroke="#2c2c2c" stroke-width="0.5"/>
<rect x="466.18" y="290.65" width="6.25" height="28.65" fill="#c4c4c4" stroke="#262626" stroke-width="0.5"/>
<rect x="466.18" y="278.28" width="6.25" height="12.37" fill="#424242" stroke="#2c2c2c" stroke-width="0.5"/>
<rect x="474.09" y="281.71" width="6.25" height="37.59" fill="#c4c4c4" stroke="#262626" stroke-width="0.5"/>
<rect x="474.09" y="276.91" width="6.25" height="4.8" fill="#424242" stroke="#2c2c2c" stroke-width="0.5"/>
<rect x="482" y="289.82" width="6.25" height="29.48" fill="#c4c4c4" stroke="#262626" stroke-width="0.5"/>
<rect x="482" y="286.18" width="6.25" height="3.64" fill="#424242" stroke="#2c2c2c" stroke-width="0.5"/>
<rect x="489.91" y="281.54" width="6.25" height="37.76" fill="#c4c4c4" stroke="#262626" stroke-width="0.5"/>
<rect x="489.91" y="266.14" width="6.25" height="15.4" fill="#424242" stroke="#2c2c2c" stroke-width="0.5"/>
<rect x="497.83" y="289.82" width="6.25" height="29.48" fill="#9a9aff" stroke="#30305c" stroke-width="0.5"/>
<rect x="497.83" y="280.38" width="6.25" height="9.44" fill="#42428e" stroke="#1c1c40" stroke-width="0.5"/>
<path d="M500.95 278.89V281.87M499.05 278.89H502.85M499.05 281.87H502.85" stroke="#1a1a1a" stroke-width="0.55" fill="none"/>
<path d="M500.95 288.17V291.48M499.05 288.17H502.85M499.05 291.48H502.85" stroke="#2a2a2a" stroke-width="0.55" fill="none"/>
<rect x="513.65" y="297.34" width="6.25" height="21.96" fill="#c4c4c4" stroke="#262626" stroke-width="0.5"/>
<rect x="513.65" y="284.69" width="6.25" height="12.65" fill="#424242" stroke="#2c2c2c" stroke-width="0.5"/>
<rect x="521.56" y="290.82" width="6.25" height="28.48" fill="#c4c4c4" stroke="#262626" stroke-width="0.5"/>
<rect x="521.56" y="282.75" width="6.25" height="8.06" fill="#424242" stroke="#2c2c2c" stroke-width="0.5"/>
<rect x="529.47" y="285.35" width="6.25" height="33.95" fill="#c4c4c4" stroke="#262626" stroke-width="0.5"/>
<rect x="529.47" y="275.2" width="6.25" height="10.15" fill="#424242" stroke="#2c2c2c" stroke-width="0.5"/>
<rect x="537.39" y="289.82" width="6.25" height="29.48" fill="#c4c4c4" stroke="#262626" stroke-width="0.5"/>
<rect x="537.39" y="277.9" width="6.25" height="11.92" fill="#424242" stroke="#2c2c2c" stroke-width="0.5"/>
<rect x="545.3" y="281.38" width="6.25" height="37.92" fill="#c4c4c4" stroke="#262626" stroke-width="0.5"/>
<rect x="545.3" y="266.14" width="6.25" height="15.24" fill="#424242" stroke="#2c2c2c" stroke-width="0.5"/>
<rect x="553.21" y="289.66" width="6.25" height="29.64" fill="#c4c4c4" stroke="#262626" stroke-width="0.5"/>
<rect x="553.21" y="277.07" width="6.25" height="12.59" fill="#424242" stroke="#2c2c2c" stroke-width="0.5"/>
<rect x="561.12" y="288.75" width="6.25" height="30.55" fill="#9a9aff" stroke="#30305c" stroke-width="0.5"/>
<rect x="561.12" y="276.74" width="6.25" height="12.01" fill="#42428e" stroke="#1c1c40" stroke-width="0.5"/>
<path d="M564.25 275.42V278.07M562.35 275.42H566.15M562.35 278.07H566.15" stroke="#1a1a1a" stroke-width="0.55" fill="none"/>
<path d="M564.25 287.09V290.4M562.35 287.09H566.15M562.35 290.4H566.15" stroke="#2a2a2a" stroke-width="0.55" fill="none"/>
<rect x="576.95" y="285.19" width="6.25" height="34.11" fill="#c4c4c4" stroke="#262626" stroke-width="0.5"/>
<rect x="576.95" y="275.08" width="6.25" height="10.1" fill="#424242" stroke="#2c2c2c" stroke-width="0.5"/>
<rect x="584.86" y="290.15" width="6.25" height="29.15" fill="#c4c4c4" stroke="#262626" stroke-width="0.5"/>
<rect x="584.86" y="275.75" width="6.25" height="14.41" fill="#424242" stroke="#2c2c2c" stroke-width="0.5"/>
<rect x="592.77" y="277.6" width="6.25" height="41.7" fill="#c4c4c4" stroke="#262626" stroke-width="0.5"/>
<rect x="592.77" y="270.12" width="6.25" height="7.49" fill="#424242" stroke="#2c2c2c" stroke-width="0.5"/>
<rect x="600.68" y="281.38" width="6.25" height="37.92" fill="#c4c4c4" stroke="#262626" stroke-width="0.5"/>
<rect x="600.68" y="267.96" width="6.25" height="13.41" fill="#424242" stroke="#2c2c2c" stroke-width="0.5"/>
<rect x="608.59" y="289.66" width="6.25" height="29.64" fill="#c4c4c4" stroke="#262626" stroke-width="0.5"/>
<rect x="608.59" y="270.94" width="6.25" height="18.71" fill="#424242" stroke="#2c2c2c" stroke-width="0.5"/>
<rect x="616.51" y="277.4" width="6.25" height="41.9" fill="#c4c4c4" stroke="#262626" stroke-width="0.5"/>
<rect x="616.51" y="263.49" width="6.25" height="13.91" fill="#424242" stroke="#2c2c2c" stroke-width="0.5"/>
<rect x="624.42" y="283.43" width="6.25" height="35.87" fill="#9a9aff" stroke="#30305c" stroke-width="0.5"/>
<rect x="624.42" y="270.28" width="6.25" height="13.15" fill="#42428e" stroke="#1c1c40" stroke-width="0.5"/>
<path d="M627.54 269.12V271.44M625.64 269.12H629.44M625.64 271.44H629.44" stroke="#1a1a1a" stroke-width="0.55" fill="none"/>
<path d="M627.54 281.78V285.09M625.64 281.78H629.44M625.64 285.09H629.44" stroke="#2a2a2a" stroke-width="0.55" fill="none"/>
<rect x="640.24" y="297.44" width="6.25" height="21.86" fill="#c4c4c4" stroke="#262626" stroke-width="0.5"/>
<rect x="640.24" y="214.35" width="6.25" height="83.09" fill="#424242" stroke="#2c2c2c" stroke-width="0.5"/>
<rect x="648.15" y="290.98" width="6.25" height="28.32" fill="#c4c4c4" stroke="#262626" stroke-width="0.5"/>
<rect x="648.15" y="213.86" width="6.25" height="77.12" fill="#424242" stroke="#2c2c2c" stroke-width="0.5"/>
<rect x="656.07" y="285.35" width="6.25" height="33.95" fill="#c4c4c4" stroke="#262626" stroke-width="0.5"/>
<rect x="656.07" y="222.33" width="6.25" height="63.02" fill="#424242" stroke="#2c2c2c" stroke-width="0.5"/>
<rect x="663.98" y="281.71" width="6.25" height="37.59" fill="#c4c4c4" stroke="#262626" stroke-width="0.5"/>
<rect x="663.98" y="218.75" width="6.25" height="62.96" fill="#424242" stroke="#2c2c2c" stroke-width="0.5"/>
<rect x="671.89" y="288.07" width="6.25" height="31.23" fill="#9a9aff" stroke="#30305c" stroke-width="0.5"/>
<rect x="671.89" y="217.44" width="6.25" height="70.62" fill="#42428e" stroke="#1c1c40" stroke-width="0.5"/>
<path d="M675.02 215.16V219.73M673.12 215.16H676.92M673.12 219.73H676.92" stroke="#1a1a1a" stroke-width="0.55" fill="none"/>
<path d="M675.02 284.59V291.55M673.12 284.59H676.92M673.12 291.55H676.92" stroke="#2a2a2a" stroke-width="0.55" fill="none"/>
<rect x="308.4" y="225.95" width="375.6" height="2.5" fill="#fff"/>
<path d="M307.4 196.8V319.3H683" stroke="#242424" stroke-width="1" fill="none"/>
<rect x="305.9" y="226.3" width="3" height="2.0" fill="#fff"/>
<path d="M303.1 227.5L312.4 225.3M303.1 229.6L312.4 227" stroke="#1a1a1a" stroke-width="0.75" fill="none"/>
<path d="M303.3 319.3H307.4M305.3 311.02H307.4M303.3 302.74H307.4M305.3 294.46H307.4M303.3 286.18H307.4M305.3 277.9H307.4M303.3 269.62H307.4M305.3 261.34H307.4M303.3 253.06H307.4M305.3 244.78H307.4M303.3 236.5H307.4M303.3 219.4H307.4M303.3 203.1H307.4M305.3 211.25H307.4" stroke="#2b2b2b" stroke-width="0.8" fill="none"/>
<text transform="translate(300.4 322.1) scale(0.905 1)" text-anchor="end" class="tk">0.0</text>
<text transform="translate(300.4 305.54) scale(0.905 1)" text-anchor="end" class="tk">0.1</text>
<text transform="translate(300.4 288.98) scale(0.905 1)" text-anchor="end" class="tk">0.2</text>
<text transform="translate(300.4 272.42) scale(0.905 1)" text-anchor="end" class="tk">0.3</text>
<text transform="translate(300.4 255.86) scale(0.905 1)" text-anchor="end" class="tk">0.4</text>
<text transform="translate(300.4 239.3) scale(0.905 1)" text-anchor="end" class="tk">0.5</text>
<text transform="translate(300.4 222.2) scale(0.905 1)" text-anchor="end" class="tk">1.0</text>
<text transform="translate(300.4 205.9) scale(0.905 1)" text-anchor="end" class="tk">1.5</text>
<text transform="translate(280.5 317.4) rotate(-90) scale(0.972 1)" class="yl"><tspan class="gm">γ</tspan>H2AX-53BP1 foci per cell</text>
<text transform="translate(481.6 201.4) scale(0.967 1)" text-anchor="middle" class="tt2">24 h post IR</text>
<text transform="translate(350.7 329.9) scale(0.89 1)" text-anchor="middle" class="xl">12 mGy</text>
<text transform="translate(453.8 329.9) scale(0.89 1)" text-anchor="middle" class="xl">25 mGy</text>
<text transform="translate(540.3 329.9) scale(0.89 1)" text-anchor="middle" class="xl">50 mGy</text>
<text transform="translate(603.9 329.9) scale(0.89 1)" text-anchor="middle" class="xl">100 mGy</text>
<text transform="translate(659.2 329.9) scale(0.89 1)" text-anchor="middle" class="xl">1 Gy</text>
<path d="M313.2 197.5H331.3L313.2 206.2Z" fill="#c4c4c4"/>
<path d="M331.3 197.5V206.2H313.2Z" fill="#9a9aff"/>
<path d="M331.3 197.5L313.2 206.2" stroke="#222" stroke-width="0.35" fill="none"/>
<rect x="313.2" y="197.5" width="18.1" height="8.7" fill="none" stroke="#2a2a2a" stroke-width="0.7"/>
<text transform="translate(333.6 204.5) scale(0.976 1)" class="lg">Spontaneous foci</text>
<path d="M313.2 208H331.3L313.2 216.7Z" fill="#424242"/>
<path d="M331.3 208V216.7H313.2Z" fill="#42428e"/>
<path d="M331.3 208L313.2 216.7" stroke="#222" stroke-width="0.35" fill="none"/>
<rect x="313.2" y="208" width="18.1" height="8.7" fill="none" stroke="#2a2a2a" stroke-width="0.7"/>
<text transform="translate(333.6 214.4) scale(0.976 1)" class="lg">Radiation-induced foci</text>
<polyline points="81.93,414.62 118.27,463.33 152.58,474.74 186.9,484.29 232.4,482.44" fill="none" stroke="#9a9afa" stroke-width="0.75" stroke-dasharray="1.3 1.5"/>
<polyline points="81.93,440.21 118.27,461.17 152.58,475.97 186.9,481.52 232.4,479.98" fill="none" stroke="#58ac58" stroke-width="0.75" stroke-dasharray="1.3 1.5"/>
<path d="M81.93 393.34V435.89M79.83 393.34H84.03M79.83 435.89H84.03" stroke="#9a9afa" stroke-width="0.7" fill="none"/>
<path d="M118.27 459.01V467.64M116.17 459.01H120.37M116.17 467.64H120.37" stroke="#9a9afa" stroke-width="0.7" fill="none"/>
<path d="M152.58 472.89V476.59M150.48 472.89H154.68M150.48 476.59H154.68" stroke="#9a9afa" stroke-width="0.7" fill="none"/>
<path d="M186.9 482.75V485.83M184.8 482.75H189M184.8 485.83H189" stroke="#9a9afa" stroke-width="0.7" fill="none"/>
<path d="M232.4 480.9V483.98M230.3 480.9H234.5M230.3 483.98H234.5" stroke="#9a9afa" stroke-width="0.7" fill="none"/>
<path d="M81.93 422.94V457.47M79.83 422.94H84.03M79.83 457.47H84.03" stroke="#58ac58" stroke-width="0.7" fill="none"/>
<path d="M118.27 453.77V468.57M116.17 453.77H120.37M116.17 468.57H120.37" stroke="#58ac58" stroke-width="0.7" fill="none"/>
<path d="M152.58 472.58V479.36M150.48 472.58H154.68M150.48 479.36H154.68" stroke="#58ac58" stroke-width="0.7" fill="none"/>
<path d="M186.9 479.67V483.37M184.8 479.67H189M184.8 483.37H189" stroke="#58ac58" stroke-width="0.7" fill="none"/>
<path d="M232.4 478.13V481.83M230.3 478.13H234.5M230.3 481.83H234.5" stroke="#58ac58" stroke-width="0.7" fill="none"/>
<rect x="79.83" y="412.52" width="4.2" height="4.2" fill="#6a6aff"/>
<rect x="116.17" y="461.23" width="4.2" height="4.2" fill="#6a6aff"/>
<rect x="150.48" y="472.64" width="4.2" height="4.2" fill="#6a6aff"/>
<rect x="184.8" y="482.19" width="4.2" height="4.2" fill="#6a6aff"/>
<rect x="230.3" y="480.34" width="4.2" height="4.2" fill="#6a6aff"/>
<circle cx="81.93" cy="440.21" r="2.55" fill="#0a7d0a"/>
<circle cx="118.27" cy="461.17" r="2.55" fill="#0a7d0a"/>
<circle cx="152.58" cy="475.97" r="2.55" fill="#0a7d0a"/>
<circle cx="186.9" cy="481.52" r="2.55" fill="#0a7d0a"/>
<circle cx="232.4" cy="479.98" r="2.55" fill="#0a7d0a"/>
<polygon points="118.27,429.5 118.83,431.02 120.45,431.09 119.18,432.1 119.62,433.66 118.27,432.77 116.91,433.66 117.35,432.1 116.08,431.09 117.7,431.02" fill="#6a6aff"/>
<polygon points="152.58,445.8 153.15,447.32 154.77,447.39 153.5,448.4 153.93,449.96 152.58,449.07 151.23,449.96 151.66,448.4 150.4,447.39 152.01,447.32" fill="#6a6aff"/>
<polygon points="186.9,452.5 187.47,454.02 189.09,454.09 187.82,455.1 188.25,456.66 186.9,455.77 185.55,456.66 185.98,455.1 184.71,454.09 186.33,454.02" fill="#6a6aff"/>
<polygon points="232.4,450.9 232.97,452.42 234.59,452.49 233.32,453.5 233.75,455.06 232.4,454.17 231.05,455.06 231.48,453.5 230.21,452.49 231.83,452.42" fill="#6a6aff"/>
<polygon points="152.58,460.5 153.15,462.02 154.77,462.09 153.5,463.1 153.93,464.66 152.58,463.77 151.23,464.66 151.66,463.1 150.4,462.09 152.01,462.02" fill="#0a7d0a"/>
<polygon points="186.9,467.1 187.47,468.62 189.09,468.69 187.82,469.7 188.25,471.26 186.9,470.37 185.55,471.26 185.98,469.7 184.71,468.69 186.33,468.62" fill="#0a7d0a"/>
<polygon points="232.4,465.9 232.97,467.42 234.59,467.49 233.32,468.5 233.75,470.06 232.4,469.17 231.05,470.06 231.48,468.5 230.21,467.49 231.83,467.42" fill="#0a7d0a"/>
<text x="119.17" y="448.6" text-anchor="middle" class="ns">n.s.</text>
<path d="M72.9 372.3V495.7H242.9" stroke="#3a3a3a" stroke-width="0.9" fill="none"/>
<path d="M69 495.7H72.9M70.9 480.28H72.9M69 464.87H72.9M70.9 449.45H72.9M69 434.04H72.9M70.9 418.62H72.9M69 403.21H72.9M70.9 387.79H72.9M69 372.38H72.9M72.9 495.7v4.1M186.9 495.7v4.2M232.4 495.7v4.2M107.22 495.7v2.1M127.29 495.7v2.1M141.53 495.7v2.1M152.58 495.7v2.1M161.61 495.7v2.1M169.24 495.7v2.1M175.85 495.7v2.1M181.68 495.7v2.1M221.3 495.7v2.1M242.5 495.7v2.1" stroke="#3a3a3a" stroke-width="0.8" fill="none"/>
<rect x="206.9" y="494.5" width="3.2" height="2.4" fill="#fff"/>
<path d="M205.4 499.8L208.25 491.8M208.8 499.8L211.65 491.8" stroke="#333" stroke-width="0.85" fill="none"/>
<text transform="translate(66.7 498.65) scale(1.05 1)" text-anchor="end" class="ctk">0</text>
<text transform="translate(66.7 467.82) scale(1.05 1)" text-anchor="end" class="ctk">10</text>
<text transform="translate(66.7 436.99) scale(1.05 1)" text-anchor="end" class="ctk">20</text>
<text transform="translate(66.7 406.16) scale(1.05 1)" text-anchor="end" class="ctk">30</text>
<text transform="translate(66.7 375.33) scale(1.05 1)" text-anchor="end" class="ctk">40</text>
<text transform="translate(72.9 508.7) scale(0.99 1)" text-anchor="middle" class="ctk">10</text>
<text transform="translate(187.2 508.7) scale(0.99 1)" text-anchor="middle" class="ctk">100</text>
<text transform="translate(232.6 508.7) scale(0.99 1)" text-anchor="middle" class="ctk">1000</text>
<text transform="translate(157.5 522)" text-anchor="middle" class="tt">Dose (mGy)</text>
<text transform="translate(151.7 368.9) scale(1.02 1)" text-anchor="middle" class="tt">24 h post IR</text>
<text transform="translate(36.2 439.4) rotate(-90) scale(1.011 1)" text-anchor="middle" class="tt">Fraction of persisting radiation-</text>
<text transform="translate(50.4 439.4) rotate(-90) scale(1.02 1)" text-anchor="middle" class="tt">induced <tspan class="gm">γ</tspan>H2AX-53BP1 foci (%)</text>
<path d="M76.2 377.6H91.6" stroke="#9a9afa" stroke-width="0.75" stroke-dasharray="1.3 1.5" fill="none"/>
<path d="M76.2 386.1H91.6" stroke="#58ac58" stroke-width="0.75" stroke-dasharray="1.3 1.5" fill="none"/>
<rect x="81.9" y="375.5" width="4.2" height="4.2" fill="#6a6aff"/>
<circle cx="84" cy="386.1" r="2.55" fill="#0a7d0a"/>
<text transform="translate(93.8 379.7) scale(0.995 1)" class="clg">Manual foci counting</text>
<text transform="translate(93.8 388.5) scale(0.995 1)" class="clg">AutoFoci counting</text>
</svg>
</body></html>
